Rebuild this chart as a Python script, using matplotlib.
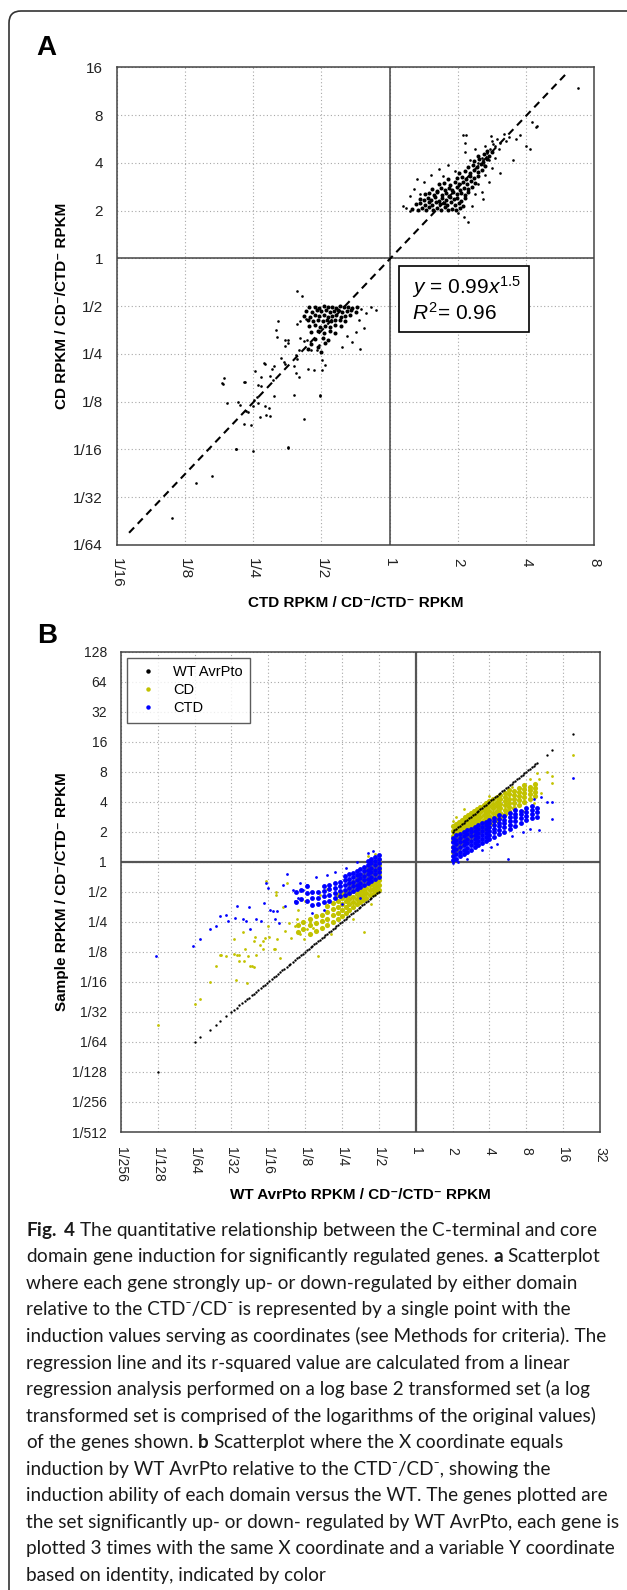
import matplotlib
matplotlib.use('Agg')
import matplotlib.pyplot as plt
import numpy as np
from matplotlib.lines import Line2D
from matplotlib.patches import FancyBboxPatch, Rectangle
from matplotlib.ticker import FixedLocator, FixedFormatter, NullLocator
from matplotlib.transforms import IdentityTransform

plt.rcParams['font.family'] = ['Liberation Sans', 'DejaVu Sans']
plt.rcParams['mathtext.fontset'] = 'custom'
plt.rcParams['mathtext.rm'] = 'Liberation Sans'
plt.rcParams['mathtext.it'] = 'Liberation Sans:italic'
plt.rcParams['mathtext.bf'] = 'Lato:bold'

# ---------------- data (all values are log2 of the ratios) ----------------
# panel A : x = CTD / CD-CTD-, y = CD / CD-CTD-
a_xticks = [-4, -3, -2, -1, 0, 1, 2, 3]
a_xlabels = ['1/16', '1/8', '1/4', '1/2', '1', '2', '4', '8']
a_yticks = [-6, -5, -4, -3, -2, -1, 0, 1, 2, 3, 4]
a_ylabels = ['1/64', '1/32', '1/16', '1/8', '1/4', '1/2', '1', '2', '4', '8', '16']

a_up_core = [
    (0.33, 1.03), (0.41, 1.01), (0.47, 1.06), (0.53, 1.02), (0.58, 1.08), (0.64, 1.01), (0.69, 1.05),
    (0.75, 1.02), (0.81, 1.07), (0.86, 1.01), (0.92, 1.04), (0.97, 1.02), (1.03, 1.06),
    (0.38, 1.13), (0.45, 1.16), (0.51, 1.11), (0.57, 1.17), (0.62, 1.12), (0.68, 1.18), (0.73, 1.13),
    (0.79, 1.15), (0.84, 1.11), (0.9, 1.17), (0.95, 1.12), (1.01, 1.16), (1.07, 1.1),
    (0.44, 1.25), (0.5, 1.22), (0.56, 1.27), (0.61, 1.23), (0.67, 1.28), (0.72, 1.21), (0.77, 1.26),
    (0.83, 1.22), (0.88, 1.29), (0.94, 1.24), (0.99, 1.27), (1.05, 1.21), (1.1, 1.26),
    (0.52, 1.34), (0.58, 1.37), (0.65, 1.33), (0.7, 1.38), (0.76, 1.32), (0.82, 1.36), (0.87, 1.31),
    (0.93, 1.38), (0.98, 1.34), (1.04, 1.37), (1.1, 1.32), (1.15, 1.39),
    (0.62, 1.45), (0.69, 1.42), (0.75, 1.47), (0.81, 1.43), (0.87, 1.48), (0.92, 1.44), (0.98, 1.49),
    (1.03, 1.43), (1.09, 1.47), (1.15, 1.45), (1.2, 1.5),
    (0.72, 1.55), (0.8, 1.58), (0.88, 1.54), (0.95, 1.59), (1.01, 1.55), (1.07, 1.6), (1.13, 1.56),
    (1.19, 1.61), (1.25, 1.57),
    (0.85, 1.66), (0.98, 1.68), (1.06, 1.7), (1.12, 1.66), (1.18, 1.72), (1.24, 1.68), (1.3, 1.73),
    (1.02, 1.78), (1.1, 1.82), (1.17, 1.79), (1.23, 1.84), (1.29, 1.8), (1.35, 1.86),
    (1.15, 1.92), (1.22, 1.95), (1.28, 1.91), (1.34, 1.97), (1.4, 1.93),
    (1.24, 2.03), (1.31, 2.07), (1.37, 2.02), (1.43, 2.08), (1.3, 2.15), (1.38, 2.18), (1.45, 2.14),
    (1.42, 2.25), (1.5, 2.22)]
a_up_sparse = [
    (0.19, 1.1), (0.24, 1.05), (0.29, 1.0), (0.3, 1.3), (0.35, 1.45), (0.4, 1.67), (0.45, 1.35),
    (0.5, 1.6), (0.6, 1.75), (0.72, 1.88), (0.78, 1.72), (0.85, 1.95), (0.95, 1.82), (1.09, 0.86),
    (1.15, 0.76), (1.2, 1.09), (1.0, 0.95), (1.25, 1.35), (1.3, 1.55), (1.36, 1.24), (1.35, 1.4),
    (1.45, 1.6), (1.4, 1.75), (1.5, 1.9), (1.55, 2.1), (1.18, 2.05), (1.25, 2.3), (1.11, 2.22),
    (1.1, 2.42), (1.08, 2.58), (1.12, 2.59), (1.48, 2.57), (1.55, 2.35), (1.6, 2.3), (1.62, 2.41),
    (1.62, 1.79), (1.7, 2.45), (1.75, 2.55), (1.68, 2.6), (1.8, 2.06), (1.85, 2.5), (1.91, 2.58),
    (2.0, 2.36), (2.05, 2.3), (2.08, 2.86), (2.15, 2.75), (2.16, 2.77), (2.76, 3.56),
    (1.3, 2.0), (1.35, 2.1), (1.42, 2.2), (1.47, 2.3), (1.52, 2.4), (1.4, 2.35), (1.5, 2.45),
    (1.57, 2.5), (1.45, 2.05), (1.38, 1.95)]

a_dn_core = [
    (-1.18, -1.02), (-1.1, -1.01), (-1.03, -1.03), (-0.97, -1.0), (-0.91, -1.02), (-0.85, -1.01),
    (-0.79, -1.03), (-0.73, -1.0), (-0.67, -1.02), (-0.61, -1.01), (-0.55, -1.03), (-0.48, -1.01),
    (-1.22, -1.1), (-1.14, -1.12), (-1.07, -1.09), (-1.0, -1.11), (-0.94, -1.08), (-0.88, -1.12),
    (-0.82, -1.1), (-0.76, -1.09), (-0.7, -1.12), (-0.63, -1.1), (-0.57, -1.08), (-0.5, -1.12),
    (-1.25, -1.2), (-1.17, -1.22), (-1.1, -1.19), (-1.03, -1.21), (-0.96, -1.18), (-0.9, -1.22),
    (-0.84, -1.2), (-0.78, -1.19), (-0.72, -1.22), (-0.65, -1.2), (-0.58, -1.18),
    (-1.2, -1.3), (-1.12, -1.32), (-1.05, -1.29), (-0.98, -1.31), (-0.92, -1.28), (-0.86, -1.32),
    (-0.8, -1.3), (-0.73, -1.29), (-0.66, -1.31),
    (-1.18, -1.42), (-1.1, -1.4), (-1.02, -1.43), (-0.95, -1.41), (-0.88, -1.44), (-0.8, -1.4),
    (-0.72, -1.42), (-1.15, -1.55), (-1.05, -1.53), (-0.96, -1.56), (-0.88, -1.52), (-0.8, -1.57),
    (-1.1, -1.68), (-0.98, -1.66), (-0.9, -1.7), (-1.15, -1.8), (-1.05, -1.85), (-0.95, -1.78),
    (-1.2, -1.9), (-1.0, -1.95)]
a_dn_sparse = [
    (-1.36, -0.68), (-1.28, -0.78), (-1.64, -1.31), (-1.65, -1.65), (-1.53, -1.71), (-1.49, -1.71),
    (-1.54, -1.83), (-1.36, -1.38), (-1.32, -1.31), (-1.23, -1.26), (-1.31, -1.67), (-1.26, -1.74),
    (-1.21, -1.71), (-1.16, -1.92), (-1.06, -1.92), (-1.04, -1.81), (-1.33, -1.92), (-1.38, -2.02),
    (-1.36, -2.11), (-1.6, -2.09), (-1.55, -2.16), (-1.53, -2.22), (-1.7, -2.26), (-1.72, -2.32),
    (-1.83, -2.22), (-1.4, -2.26), (-1.37, -2.4), (-1.33, -2.49), (-1.2, -2.32), (-1.11, -2.33),
    (-0.99, -2.13), (-0.99, -2.33), (-0.95, -2.23), (-1.75, -2.47), (-1.71, -2.54), (-1.88, -2.49),
    (-1.98, -2.35), (-1.93, -2.65), (-1.89, -2.68), (-1.69, -2.89), (-1.99, -2.96), (-1.95, -2.9),
    (-2.43, -2.51), (-2.45, -2.63), (-2.12, -2.59), (-1.41, -2.85), (-1.02, -2.88), (-2.23, -3.01),
    (-2.19, -3.06), (-2.11, -3.2), (-2.08, -3.22), (-2.39, -3.03), (-2.0, -3.1), (-1.93, -3.03),
    (-1.83, -3.1), (-1.77, -3.13), (-1.9, -3.33), (-1.82, -3.28), (-1.76, -3.31), (-2.14, -3.47),
    (-1.26, -3.36), (-2.04, -3.49), (-1.49, -3.95), (-2.26, -3.98), (-1.49, -1.77), (-1.67, -1.5),
    (-1.84, -2.19), (-2.46, -2.6), (-2.14, -2.58), (-1.02, -2.86), (-1.49, -3.96), (-2.25, -3.98),
    (-2.6, -4.55), (-2.84, -4.71), (-3.19, -5.43), (-2.0, -4.03),
    (-0.42, -1.05), (-0.35, -1.15), (-0.28, -1.02), (-0.2, -1.08), (-0.45, -1.3), (-0.38, -1.45),
    (-0.5, -1.55), (-0.55, -1.75), (-0.62, -1.62), (-0.43, -1.9), (-0.7, -1.85)]

# regression y = 0.99 x^1.5, drawn over this x span (log2)
fit_coef = 0.99
fit_exp = 1.5
fit_span = [-3.82, 2.57]

# panel B : x = WT AvrPto / CD-CTD-, y = sample / CD-CTD-
b_xticks = list(range(-8, 6))
b_xlabels = ['1/256', '1/128', '1/64', '1/32', '1/16', '1/8', '1/4', '1/2', '1', '2', '4', '8', '16', '32']
b_yticks = list(range(-9, 8))
b_ylabels = ['1/512', '1/256', '1/128', '1/64', '1/32', '1/16', '1/8', '1/4', '1/2',
             '1', '2', '4', '8', '16', '32', '64', '128']

# WT AvrPto points lie on y = x by construction
wt_x = [-7.0, -6.0, -5.84, -5.59, -5.42, -5.3, -5.14, -5.0, -4.93, -4.86, -4.78, -4.7, -4.64,
        -4.58, -4.52, -4.45, -4.4, -4.33, -4.27, -4.2, -4.15, -4.09, -4.03, -3.97, -3.9, -3.85,
        -3.8, -3.74, -3.68, -3.62, -3.56, -3.5, -3.45, -3.4, -3.34, -3.28, -3.22, -3.17, -3.12,
        -3.06, -3.0, -2.95, -2.9, -2.85, -2.8, -2.75, -2.7, -2.65, -2.6, -2.55, -2.5, -2.45, -2.4,
        -2.35, -2.3, -2.25, -2.2, -2.15, -2.1, -2.05, -2.0, -1.95, -1.9, -1.85, -1.8, -1.75, -1.7,
        -1.65, -1.6, -1.55, -1.5, -1.45, -1.4, -1.35, -1.3, -1.25, -1.2, -1.15, -1.1, -1.05, -1.0,
        1.0, 1.05, 1.1, 1.15, 1.2, 1.25, 1.3, 1.35, 1.4, 1.45, 1.5, 1.55, 1.6, 1.65, 1.7, 1.75,
        1.8, 1.85, 1.9, 1.95, 2.0, 2.05, 2.1, 2.15, 2.2, 2.25, 2.3, 2.35, 2.4, 2.45, 2.5, 2.55,
        2.6, 2.65, 2.7, 2.75, 2.8, 2.85, 2.9, 2.95, 3.0, 3.05, 3.1, 3.15, 3.2, 3.25, 3.3, 3.55,
        3.71, 4.27]
wt_y = wt_x

cd_hi_cols = [
    (1.00, [0.32, 0.5, 0.68, 0.85, 1.02, 1.18]), (1.08, [0.4, 0.58, 0.75, 0.92, 1.1, 1.25]),
    (1.17, [0.45, 0.63, 0.8, 0.98, 1.15, 1.32]), (1.25, [0.55, 0.72, 0.9, 1.07, 1.24, 1.4]),
    (1.34, [0.62, 0.8, 0.97, 1.15, 1.32, 1.48]), (1.42, [0.7, 0.88, 1.05, 1.22, 1.4, 1.55]),
    (1.5, [0.78, 0.95, 1.12, 1.3, 1.47, 1.63]), (1.59, [0.86, 1.03, 1.2, 1.37, 1.54, 1.7]),
    (1.67, [0.94, 1.1, 1.27, 1.44, 1.6, 1.76]), (1.75, [1.0, 1.17, 1.34, 1.5, 1.67, 1.83]),
    (1.84, [1.08, 1.25, 1.41, 1.57, 1.74, 1.9]), (1.92, [1.15, 1.32, 1.48, 1.64, 1.8, 1.96]),
    (2.0, [1.22, 1.38, 1.54, 1.7, 1.86, 2.02]), (2.1, [1.3, 1.46, 1.62, 1.78, 1.94, 2.08]),
    (2.2, [1.4, 1.55, 1.7, 1.85, 2.0, 2.15]), (2.3, [1.48, 1.63, 1.78, 1.93, 2.08, 2.22]),
    (2.42, [1.58, 1.73, 1.88, 2.02, 2.17, 2.3]), (2.54, [1.68, 1.83, 1.97, 2.1, 2.25, 2.38]),
    (2.66, [1.8, 1.95, 2.08, 2.22, 2.35]), (2.8, [1.9, 2.05, 2.18, 2.32, 2.45]),
    (2.95, [2.0, 2.15, 2.28, 2.42, 2.55]), (3.1, [2.1, 2.25, 2.38, 2.5]),
    (3.25, [2.2, 2.33, 2.47, 2.58])]
cd_hi_sparse = [
    (3.55, 2.99), (3.69, 2.85), (3.69, 2.64), (4.27, 3.55), (3.35, 2.75), (3.3, 2.95), (1.1, 1.5),
    (1.3, 1.75), (2.6, 2.5), (3.1, 2.75), (1.0, 1.35), (2.9, 1.7), (3.4, 2.3), (2.0, 2.2),
    (1.05, 0.15), (1.2, 0.25), (2.4, 1.35), (3.2, 1.95)]

ctd_hi_cols = [
    (1.0, [0.05, 0.2, 0.35, 0.5, 0.65, 0.8]), (1.1, [0.1, 0.26, 0.42, 0.58, 0.73, 0.88]),
    (1.2, [0.18, 0.34, 0.5, 0.65, 0.8, 0.94]), (1.3, [0.25, 0.4, 0.55, 0.7, 0.85, 1.0]),
    (1.4, [0.32, 0.47, 0.62, 0.77, 0.92, 1.05]), (1.5, [0.4, 0.55, 0.7, 0.85, 0.98, 1.1]),
    (1.6, [0.48, 0.62, 0.77, 0.9, 1.04, 1.16]), (1.7, [0.55, 0.7, 0.84, 0.97, 1.1, 1.22]),
    (1.8, [0.62, 0.76, 0.9, 1.03, 1.16, 1.28]), (1.9, [0.7, 0.84, 0.97, 1.1, 1.22, 1.34]),
    (2.0, [0.76, 0.9, 1.03, 1.16, 1.28, 1.4]), (2.12, [0.84, 0.98, 1.1, 1.23, 1.35, 1.47]),
    (2.25, [0.92, 1.06, 1.18, 1.3, 1.42, 1.55]), (2.4, [1.0, 1.15, 1.28, 1.4, 1.52]),
    (2.55, [1.1, 1.24, 1.37, 1.5, 1.62]), (2.7, [1.2, 1.35, 1.48, 1.6, 1.72]),
    (2.85, [1.3, 1.45, 1.58, 1.7]), (3.0, [1.38, 1.52, 1.65, 1.78]),
    (3.15, [1.45, 1.6, 1.72, 1.85]), (3.3, [1.5, 1.65, 1.78])]
ctd_hi_sparse = [
    (1.0, -0.05), (2.5, 0.09), (3.1, 1.09), (3.35, 1.06), (3.55, 2.0), (3.7, 2.0), (3.7, 1.44),
    (4.27, 2.79), (2.9, 1.0), (2.2, 0.6), (1.8, 0.4), (3.4, 2.15), (3.2, 2.1), (2.6, 0.85),
    (1.4, 0.1), (2.05, 0.5), (1.15, -0.02)]

cd_lo_cols = [
    (-1.0, [-0.95, -0.78, -0.6, -0.43, -0.26, -0.1, 0.05]),
    (-1.08, [-1.0, -0.83, -0.66, -0.5, -0.33, -0.17, 0.0]),
    (-1.17, [-1.07, -0.9, -0.73, -0.56, -0.4, -0.23, -0.08]),
    (-1.25, [-1.12, -0.95, -0.78, -0.62, -0.45, -0.3, -0.15]),
    (-1.34, [-1.2, -1.03, -0.86, -0.7, -0.53, -0.37, -0.22]),
    (-1.42, [-1.28, -1.1, -0.93, -0.76, -0.6, -0.44]),
    (-1.5, [-1.35, -1.18, -1.0, -0.83, -0.67, -0.5]),
    (-1.6, [-1.42, -1.25, -1.08, -0.9, -0.74, -0.58]),
    (-1.7, [-1.5, -1.33, -1.16, -0.98, -0.82, -0.66]),
    (-1.8, [-1.6, -1.42, -1.24, -1.06, -0.9, -0.74]),
    (-1.9, [-1.7, -1.5, -1.32, -1.14, -0.97]),
    (-2.0, [-1.8, -1.6, -1.4, -1.22, -1.05]),
    (-2.12, [-1.9, -1.7, -1.5, -1.3, -1.12]),
    (-2.25, [-2.0, -1.78, -1.58, -1.38]),
    (-2.4, [-2.1, -1.9, -1.68, -1.47]),
    (-2.55, [-2.2, -1.98, -1.76]),
    (-2.7, [-2.3, -2.05, -1.82]),
    (-2.88, [-2.4, -2.12, -1.9]),
    (-3.05, [-2.25, -2.0]),
    (-3.2, [-2.35, -2.1])]
cd_lo_sparse = [
    (-5.42, -3.46), (-5.29, -3.11), (-5.14, -3.15), (-4.93, -2.56), (-4.78, -3.11), (-4.69, -2.34),
    (-4.63, -2.89), (-4.5, -3.48), (-4.45, -3.48), (-4.36, -2.49), (-4.32, -3.11), (-4.15, -2.89),
    (-4.09, -2.53), (-4.05, -0.63), (-4.0, -2.14), (-3.98, -2.49), (-3.84, -2.91), (-3.8, -1.02),
    (-3.78, -1.12), (-3.77, -2.58), (-3.67, -3.22), (-3.55, -2.31), (-3.5, -0.71), (-3.43, -2.03),
    (-3.37, -2.53), (-3.28, -2.14), (-3.23, -1.92), (-3.14, -2.42), (-3.04, -2.56), (-2.96, -2.25),
    (-2.87, -2.01), (-2.78, -2.2), (-2.65, -3.15), (-7.0, -5.44), (-6.0, -4.72), (-5.84, -4.56),
    (-5.59, -4.0), (-5.3, -3.09), (-4.94, -3.07), (-4.85, -3.11), (-4.79, -3.31), (-4.67, -3.32),
    (-4.87, -3.94), (-4.57, -4.03), (-4.4, -3.5), (-4.54, -3.14), (-4.4, -2.64), (-4.22, -2.76),
    (-4.14, -2.64), (-3.82, -2.92), (-1.4, -2.33), (-1.7, -1.9), (-2.3, -2.4), (-1.2, -1.4),
    (-1.1, 0.25), (-1.3, 0.2), (-2.6, -1.1), (-2.4, -0.9), (-3.2, -1.6), (-3.6, -1.5), (-3.0, -1.3)]

ctd_lo_cols = [
    (-1.0, [-0.5, -0.35, -0.2, -0.05, 0.1, 0.22]), (-1.1, [-0.58, -0.42, -0.27, -0.12, 0.03, 0.16]),
    (-1.2, [-0.65, -0.5, -0.34, -0.2, -0.05, 0.1]), (-1.3, [-0.72, -0.56, -0.4, -0.26, -0.12, 0.02]),
    (-1.4, [-0.78, -0.62, -0.47, -0.32, -0.18]), (-1.5, [-0.85, -0.7, -0.55, -0.4, -0.25]),
    (-1.6, [-0.92, -0.76, -0.6, -0.45, -0.3]), (-1.7, [-0.98, -0.82, -0.66, -0.5, -0.36]),
    (-1.8, [-1.05, -0.88, -0.72, -0.56, -0.42]), (-1.92, [-1.1, -0.94, -0.78, -0.62, -0.48]),
    (-2.05, [-1.15, -0.98, -0.82, -0.66]), (-2.2, [-1.22, -1.05, -0.88, -0.72]),
    (-2.35, [-1.3, -1.1, -0.92, -0.76]), (-2.5, [-1.35, -1.15, -0.97, -0.8]),
    (-2.65, [-1.4, -1.2, -1.0]), (-2.8, [-1.45, -1.22, -1.0]), (-2.95, [-1.3, -1.05, -0.8]),
    (-3.1, [-1.25, -0.95]), (-3.25, [-1.35, -1.0])]
ctd_lo_sparse = [
    (-7.04, -3.15), (-6.03, -2.82), (-5.85, -2.58), (-5.59, -2.25), (-5.43, -2.13), (-5.31, -1.82),
    (-5.14, -1.78), (-5.1, -1.98), (-4.9, -1.87), (-4.86, -1.48), (-4.68, -1.92), (-4.6, -1.98),
    (-4.51, -1.52), (-4.5, -2.25), (-4.33, -1.89), (-4.2, -1.98), (-4.11, -1.37), (-4.05, -0.71),
    (-4.02, -0.88), (-3.95, -1.59), (-3.88, -1.63), (-3.82, -1.92), (-3.77, -1.65), (-3.7, -2.05),
    (-3.61, -0.77), (-3.55, -1.46), (-3.49, -0.41), (-3.32, -0.93), (-3.28, -1.32), (-3.19, -1.21),
    (-3.14, -0.71), (-3.05, -0.93), (-2.96, -0.77), (-2.7, -0.5), (-2.4, -0.45), (-2.2, -0.35),
    (-1.9, -0.2), (-1.6, 0.0), (-1.3, 0.3), (-1.15, 0.35), (-2.0, -1.4), (-1.5, -1.2),
    (-2.8, -1.7), (-2.5, -1.6)]

legend_labels = ['WT AvrPto', 'CD', 'CTD']
legend_colors = ['black', '#c2c200', '#0000ff']

caption_lines = [
    r'$\mathbf{Fig.}$ $\mathbf{4}$ The quantitative relationship between the C-terminal and core',
    r'domain gene induction for significantly regulated genes. $\mathbf{a}$ Scatterplot',
    'where each gene strongly up- or down-regulated by either domain',
    'relative to the CTD\u207b/CD\u207b is represented by a single point with the',
    'induction values serving as coordinates (see Methods for criteria). The',
    'regression line and its r-squared value are calculated from a linear',
    'regression analysis performed on a log base 2 transformed set (a log',
    'transformed set is comprised of the logarithms of the original values)',
    r'of the genes shown. $\mathbf{b}$ Scatterplot where the X coordinate equals',
    'induction by WT AvrPto relative to the CTD\u207b/CD\u207b, showing the',
    'induction ability of each domain versus the WT. The genes plotted are',
    'the set significantly up- or down- regulated by WT AvrPto, each gene is',
    'plotted 3 times with the same X coordinate and a variable Y coordinate',
    'based on identity, indicated by color']

# ---------------- figure ----------------
W, H, DPI = 627, 1590, 100
fig = plt.figure(figsize=(W / DPI, H / DPI), dpi=DPI)
CAP = ['Lato', 'DejaVu Sans']


def px_axes(l, t, r, b):
    return fig.add_axes([l / W, 1 - b / H, (r - l) / W, (b - t) / H])


def expand(cols):
    return [(x, y) for x, ys in cols for y in ys]


def style(ax, xt, xl, yt, yl, size, xpad, ypad, midw, midc):
    ax.set_xscale('log', base=2)
    ax.set_yscale('log', base=2)
    ax.set_xlim(2.0 ** xt[0], 2.0 ** xt[-1])
    ax.set_ylim(2.0 ** yt[0], 2.0 ** yt[-1])
    ax.xaxis.set_major_locator(FixedLocator(np.exp2(xt)))
    ax.xaxis.set_major_formatter(FixedFormatter(xl))
    ax.yaxis.set_major_locator(FixedLocator(np.exp2(yt)))
    ax.yaxis.set_major_formatter(FixedFormatter(yl))
    ax.xaxis.set_minor_locator(NullLocator())
    ax.yaxis.set_minor_locator(NullLocator())
    ax.tick_params(length=0, labelsize=size, colors='#222222')
    ax.tick_params(axis='x', labelrotation=-90, pad=xpad)
    ax.tick_params(axis='y', pad=ypad)
    ax.set_axisbelow(True)
    ax.grid(True, color='#a8a8a8', linestyle=(0, (1, 2.2)), linewidth=0.8)
    ax.axvline(1, color=midc, lw=midw, zorder=1.5)
    ax.axhline(1, color=midc, lw=midw, zorder=1.5)
    for s in ax.spines.values():
        s.set_color('#444444')
        s.set_linewidth(1.1)


def dots(ax, pts, color, ms, z=3):
    p = np.array(pts, dtype=float)
    ax.plot(np.exp2(p[:, 0]), np.exp2(p[:, 1]), ls='none', marker='o', ms=ms,
            mew=0, color=color, zorder=z)


# outer frame, open on right and bottom
fig.patches.append(FancyBboxPatch((9, -30), 660, H - 11 + 30,
                                  boxstyle='round,pad=0,rounding_size=12',
                                  transform=IdentityTransform(), fill=False,
                                  ec='#333333', lw=1.2))

# ---- panel A ----
axA = px_axes(116.8, 67.3, 594.4, 545)
style(axA, a_xticks, a_xlabels, a_yticks, a_ylabels, 11, 9.5, 10, 1.1, '#444444')
dots(axA, a_up_core, 'black', 2.9)
dots(axA, a_up_sparse, 'black', 1.9)
dots(axA, a_dn_core, 'black', 2.9)
dots(axA, a_dn_sparse, 'black', 1.9)
fx = np.exp2(np.array(fit_span))
axA.plot(fx, fit_coef * fx ** fit_exp, color='black', lw=1.5,
         linestyle=(0, (3.5, 2.5)), zorder=4)

fig.patches.append(Rectangle((399, H - 332), 130, 66, transform=IdentityTransform(),
                             fill=True, fc='white', ec='black', lw=1.2, zorder=5))
fig.text(412 / W, 1 - 294 / H, r'$y$ = 0.99$x^{1.5}$', fontsize=15, va='baseline', zorder=6)
fig.text(412 / W, 1 - 320 / H, r'$R^{2}$= 0.96', fontsize=15, va='baseline', zorder=6)

fig.text(36 / W, 1 - 55 / H, 'A', fontsize=20, fontweight='bold', va='baseline')
fig.text(355.6 / W, 1 - 603 / H, 'CTD RPKM / CD\u207b/CTD\u207b RPKM', fontsize=11,
         fontweight='bold', ha='center', va='center')
fig.text(62 / W, 1 - 306 / H, 'CD RPKM / CD\u207b/CTD\u207b RPKM', fontsize=11,
         fontweight='bold', ha='center', va='center', rotation=90)

# ---- panel B ----
axB = px_axes(120.8, 651.7, 600, 1132)
style(axB, b_xticks, b_xlabels, b_yticks, b_ylabels, 10, 11, 10, 1.6, '#555555')
dots(axB, expand(cd_lo_cols), legend_colors[1], 3.7)
dots(axB, cd_lo_sparse, legend_colors[1], 2.0)
dots(axB, expand(cd_hi_cols), legend_colors[1], 3.7)
dots(axB, cd_hi_sparse, legend_colors[1], 2.0)
dots(axB, expand(ctd_lo_cols), legend_colors[2], 3.5)
dots(axB, ctd_lo_sparse, legend_colors[2], 2.0)
dots(axB, expand(ctd_hi_cols), legend_colors[2], 3.5)
dots(axB, ctd_hi_sparse, legend_colors[2], 2.0)
dots(axB, list(zip(wt_x, wt_y)), legend_colors[0], 1.7, z=4)

handles = [Line2D([], [], ls='none', marker='o', ms=3.2, mew=0, color=c) for c in legend_colors]
leg = axB.legend(handles, legend_labels, loc='upper left', bbox_to_anchor=(0.013, 0.987),
                 fontsize=10.5, frameon=True, fancybox=False, edgecolor='#333333',
                 handlelength=1.9, handletextpad=0.75, borderpad=0.5, labelspacing=0.28,
                 borderaxespad=0)
leg.get_frame().set_linewidth(1.0)

fig.text(37 / W, 1 - 643 / H, 'B', fontsize=20, fontweight='bold', va='baseline')
fig.text(360 / W, 1 - 1195 / H, 'WT AvrPto RPKM / CD\u207b/CTD\u207b RPKM', fontsize=11,
         fontweight='bold', ha='center', va='center')
fig.text(62 / W, 1 - 892 / H, 'Sample RPKM / CD\u207b/CTD\u207b RPKM', fontsize=11,
         fontweight='bold', ha='center', va='center', rotation=90)

# ---- caption ----
renderer = fig.canvas.get_renderer()
probe = fig.text(0, 0, caption_lines[12], fontsize=12, family=CAP)
cap_size = 12 * 585 / probe.get_window_extent(renderer).width
probe.remove()
for i, line in enumerate(caption_lines):
    fig.text(26 / W, 1 - (1235.7 + i * 26.56) / H, line, fontsize=cap_size, family=CAP,
             va='baseline', ha='left', color='#1a1a1a')

fig.savefig('out.png', dpi=DPI)
